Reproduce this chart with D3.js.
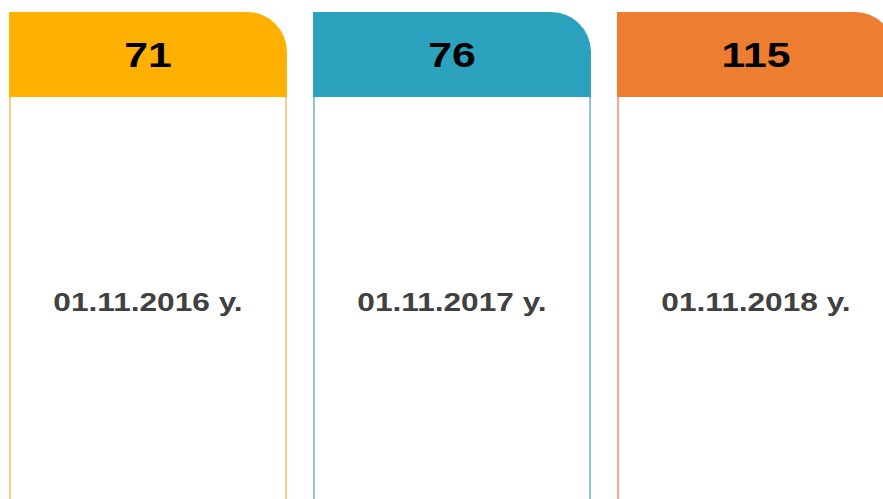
<!DOCTYPE html>
<html>
<head>
<meta charset="utf-8">
<script src="https://cdn.jsdelivr.net/npm/d3@7"></script>
<style>
  html, body { margin: 0; padding: 0; background: #fff; overflow: hidden; }
  text { font-family: "Liberation Sans", Arial, sans-serif; font-weight: bold; }
</style>
</head>
<body>
<div id="app"></div>
<script>
// data
let dates = ["01.11.2016 y.", "01.11.2017 y.", "01.11.2018 y."]
let values = [71, 76, 115]
let fills = ["#FFB000", "#2CA2BF", "#ED7D31"]
let borders = ["#FFC98A", "#8CC7D8", "#F3A985"]

let width = 883
let height = 499
let top_y = 12
let head_h = 85
let r = 40
let stretch = 1.24

let svg = d3.select("#app").append("svg")
    .attr("width", width)
    .attr("height", height)

let x = d3.scaleBand()
    .domain(dates)
    .range([9, 895])
    .paddingInner(26 / 304)
    .paddingOuter(0)

let bw = x.bandwidth()

let cards = svg.selectAll("g.card")
    .data(dates)
    .enter().append("g")
    .attr("class", "card")
    .attr("transform", d => "translate(" + x(d) + ",0)")

// body outline (left + right sides)
cards.append("path")
    .attr("d", "M1," + (top_y + head_h) + "V" + (height + 5) + "M" + (bw - 1) + "," + (top_y + head_h) + "V" + (height + 5))
    .attr("fill", "none")
    .attr("stroke", (d, i) => borders[i])
    .attr("stroke-width", 2)

// header with rounded top-right corner
cards.append("path")
    .attr("d", "M0," + top_y +
        "H" + (bw - r) +
        "A" + r + "," + r + " 0 0 1 " + bw + "," + (top_y + r) +
        "V" + (top_y + head_h) +
        "H0Z")
    .attr("fill", (d, i) => fills[i])

cards.append("text")
    .attr("transform", "translate(" + (bw / 2) + "," + 67 + ") scale(" + stretch + ",1)")
    .attr("text-anchor", "middle")
    .attr("font-size", 34.5)
    .attr("fill", "#000")
    .text((d, i) => values[i])

cards.append("text")
    .attr("transform", "translate(" + (bw / 2) + "," + 311 + ") scale(" + stretch + ",1)")
    .attr("text-anchor", "middle")
    .attr("font-size", 25.5)
    .attr("fill", "#404040")
    .text(d => d)
</script>
</body>
</html>
